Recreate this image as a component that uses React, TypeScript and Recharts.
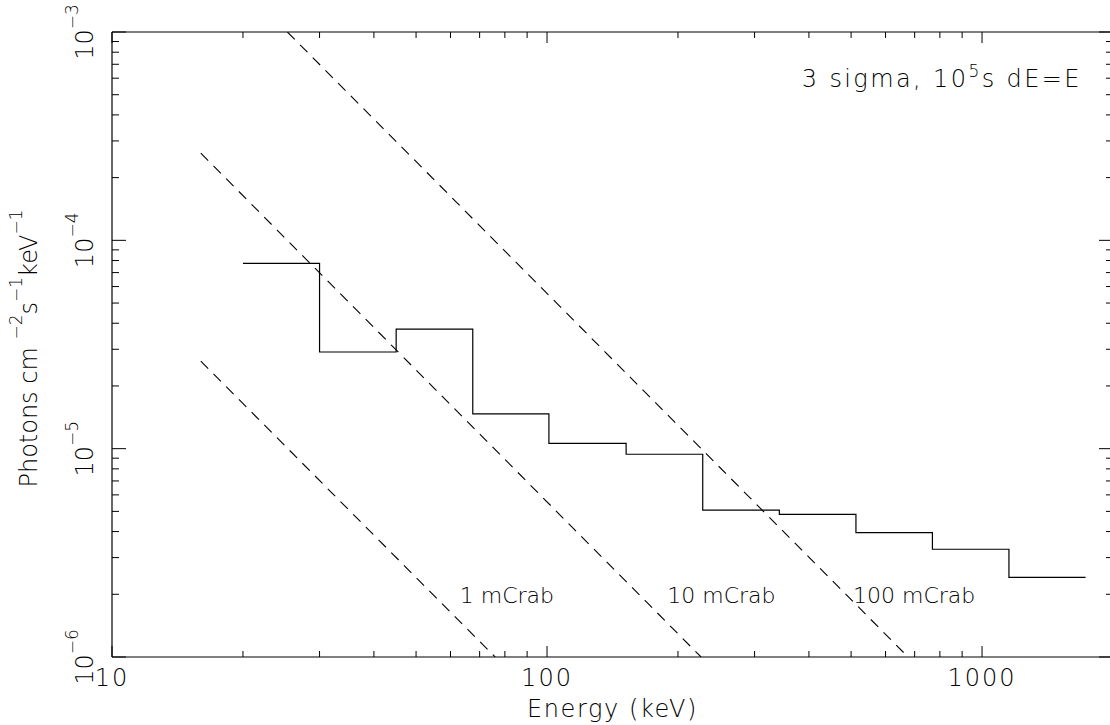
import React from 'react'
import { LineChart, Line, XAxis, YAxis, ReferenceDot } from 'recharts'

// sensitivity curve, 3 sigma in 1e5 s, dE = E (bin edges, last level repeated to close the step)
const stepEnergy = [20, 30, 45, 67.5, 101, 152, 228, 342, 513, 769, 1153, 1730]
const stepFlux = [
  7.76e-5, 2.91e-5, 3.75e-5, 1.47e-5, 1.06e-5, 9.4e-6, 5.07e-6, 4.84e-6, 3.95e-6, 3.29e-6, 2.41e-6,
  2.41e-6,
]

// Crab reference lines, end points
const crabLabels = ['1 mCrab', '10 mCrab', '100 mCrab']
const crabEnergy = [
  [16, 76],
  [16, 226],
  [25.3, 676],
]
const crabFlux = [
  [2.63e-5, 1e-6],
  [2.62e-4, 1e-6],
  [1e-3, 1e-6],
]
const crabLabelEnergy = [63, 189, 505]
const crabLabelFlux = 1.82e-6

const noteEnergy = 385
const noteFlux = 5.45e-4

const xTicks = [
  10, 20, 30, 40, 50, 60, 70, 80, 90, 100, 200, 300, 400, 500, 600, 700, 800, 900, 1000, 2000,
]
const yTicks = [
  1e-6, 2e-6, 3e-6, 4e-6, 5e-6, 6e-6, 7e-6, 8e-6, 9e-6, 1e-5, 2e-5, 3e-5, 4e-5, 5e-5, 6e-5, 7e-5,
  8e-5, 9e-5, 1e-4, 2e-4, 3e-4, 4e-4, 5e-4, 6e-4, 7e-4, 8e-4, 9e-4, 1e-3,
]

const FONT = '"DejaVu Sans", sans-serif'
const INK = '#000'

const stepData = stepEnergy.map((e, i) => ({ e, f: stepFlux[i] }))
const crabData = crabEnergy.map((es, k) => es.map((e, i) => ({ e, f: crabFlux[k][i] })))

const isMajor = (v: number) => Math.abs(Math.log10(v) - Math.round(Math.log10(v))) < 1e-6

const textStyle = { fontFamily: FONT, fontWeight: 200, fill: INK }

function BottomTick({ x, y, payload }: any) {
  const major = isMajor(payload.value)
  return (
    <g>
      <line x1={x} x2={x} y1={y} y2={y - (major ? 11 : 6)} stroke={INK} strokeWidth={1} />
      {major && (
        <text x={x} y={y + 29} textAnchor="middle" fontSize={24} letterSpacing={2} {...textStyle}>
          {payload.value}
        </text>
      )}
    </g>
  )
}

function TopTick({ x, y, payload }: any) {
  const major = isMajor(payload.value)
  return <line x1={x} x2={x} y1={y} y2={y + (major ? 11 : 6)} stroke={INK} strokeWidth={1} />
}

function LeftTick({ x, y, payload }: any) {
  const major = isMajor(payload.value)
  const exp = Math.round(Math.log10(payload.value))
  return (
    <g>
      <line x1={x} x2={x + (major ? 14 : 7)} y1={y} y2={y} stroke={INK} strokeWidth={1} />
      {major && (
        <text
          transform={`translate(${x - 19},${y}) rotate(-90)`}
          textAnchor="middle"
          fontSize={24}
          {...textStyle}
        >
          10
          <tspan dy={-15} fontSize={17}>
            {'\u2212' + Math.abs(exp)}
          </tspan>
        </text>
      )}
    </g>
  )
}

function RightTick({ x, y, payload }: any) {
  const major = isMajor(payload.value)
  return <line x1={x} x2={x - (major ? 14 : 7)} y1={y} y2={y} stroke={INK} strokeWidth={1} />
}

const xTitle = ({ viewBox }: any) => (
  <text
    x={viewBox.x + viewBox.width / 2}
    y={viewBox.y + 60}
    textAnchor="middle"
    fontSize={24}
    letterSpacing={1.6}
    {...textStyle}
  >
    Energy (keV)
  </text>
)

const yTitle = ({ viewBox }: any) => (
  <text
    transform={`translate(37,${viewBox.y + viewBox.height / 2 + 4}) rotate(-90)`}
    textAnchor="middle"
    fontSize={24}
    {...textStyle}
  >
    Photons cm{' '}
    <tspan dy={-15} fontSize={17}>
      {'\u22122'}
    </tspan>
    <tspan dy={15} fontSize={24}>
      s
    </tspan>
    <tspan dy={-15} fontSize={17}>
      {'\u22121'}
    </tspan>
    <tspan dy={15} fontSize={24}>
      keV
    </tspan>
    <tspan dy={-15} fontSize={17}>
      {'\u22121'}
    </tspan>
  </text>
)

const crabLabel = (text: string) => ({ viewBox }: any) => (
  <text x={viewBox.x} y={viewBox.y} fontSize={22} {...textStyle}>
    {text}
  </text>
)

const noteLabel = ({ viewBox }: any) => (
  <text x={viewBox.x} y={viewBox.y} fontSize={24} letterSpacing={2.4} {...textStyle}>
    3 sigma, 10
    <tspan dy={-10} fontSize={17}>
      5
    </tspan>
    <tspan dy={10} fontSize={24}>
      s dE=E
    </tspan>
  </text>
)

export default function App() {
  return (
    <div
      style={{
        position: 'absolute',
        left: 0,
        top: 0,
        width: 1110,
        height: 725,
        overflow: 'hidden',
        background: '#fff',
      }}
    >
      <LineChart width={1120} height={725} margin={{ top: 2, right: 0, bottom: 0, left: 0 }}>
        <XAxis
          dataKey="e"
          type="number"
          scale="log"
          domain={[10, 2000]}
          allowDataOverflow
          ticks={xTicks}
          interval={0}
          height={68}
          tickSize={0}
          tickMargin={0}
          tickLine={false}
          tick={BottomTick}
          axisLine={{ stroke: INK, strokeWidth: 1.2 }}
          label={xTitle}
        />
        <XAxis
          xAxisId="top"
          orientation="top"
          dataKey="e"
          type="number"
          scale="log"
          domain={[10, 2000]}
          allowDataOverflow
          ticks={xTicks}
          interval={0}
          height={30}
          tickSize={0}
          tickMargin={0}
          tickLine={false}
          tick={TopTick}
          axisLine={{ stroke: INK, strokeWidth: 1.2 }}
        />
        <YAxis
          dataKey="f"
          type="number"
          scale="log"
          domain={[1e-6, 1e-3]}
          allowDataOverflow
          ticks={yTicks}
          interval={0}
          width={112}
          tickSize={0}
          tickMargin={0}
          tickLine={false}
          tick={LeftTick}
          axisLine={{ stroke: INK, strokeWidth: 1.2 }}
          label={yTitle}
        />
        <YAxis
          yAxisId="right"
          orientation="right"
          dataKey="f"
          type="number"
          scale="log"
          domain={[1e-6, 1e-3]}
          allowDataOverflow
          ticks={yTicks}
          interval={0}
          width={7}
          tickSize={0}
          tickMargin={0}
          tickLine={false}
          tick={RightTick}
          axisLine={{ stroke: INK, strokeWidth: 1.2 }}
        />
        {crabData.map((d, k) => (
          <Line
            key={crabLabels[k]}
            data={d}
            dataKey="f"
            type="linear"
            stroke={INK}
            strokeWidth={1.1}
            strokeDasharray="10.5 7.5"
            dot={false}
            activeDot={false}
            isAnimationActive={false}
          />
        ))}
        <Line
          data={stepData}
          dataKey="f"
          type="stepAfter"
          stroke={INK}
          strokeWidth={1.2}
          dot={false}
          activeDot={false}
          isAnimationActive={false}
        />
        {crabLabels.map((t, k) => (
          <ReferenceDot
            key={t}
            x={crabLabelEnergy[k]}
            y={crabLabelFlux}
            r={0}
            fill="none"
            stroke="none"
            label={crabLabel(t)}
          />
        ))}
        <ReferenceDot x={noteEnergy} y={noteFlux} r={0} fill="none" stroke="none" label={noteLabel} />
      </LineChart>
    </div>
  )
}
